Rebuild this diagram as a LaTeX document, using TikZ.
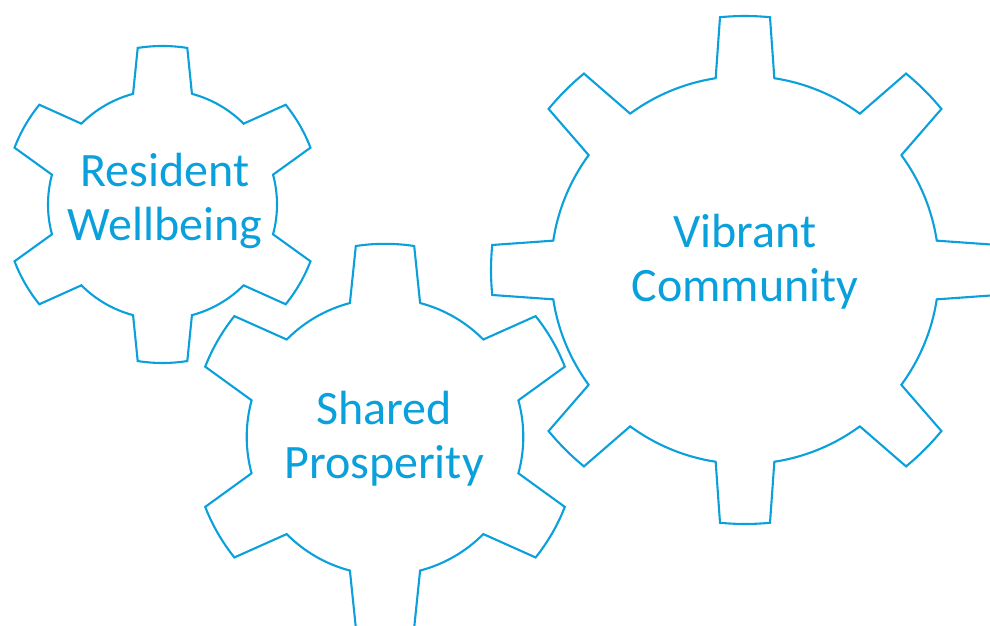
\documentclass[tikz,border=0pt]{standalone}
\usepackage{fontspec}
\setmainfont{Carlito}
\definecolor{gearblue}{RGB}{10,160,220}
\tikzset{
  gearline/.style={draw=gearblue, line width=2.1pt, line join=miter, line cap=round},
  gearlabel/.style={text=gearblue, align=center, inner sep=0pt, font=\fontsize{48}{54}\selectfont}
}
% #1 centre, #2 teeth, #3 first tooth angle, #4 root radius, #5 tip radius,
% #6 half angle at tip, #7 half angle at root
\newcommand{\gearwheel}[7]{%
  \begin{scope}[shift={#1}]
    \pgfmathsetmacro{\gearstep}{360/#2}
    \foreach \k in {1,...,#2}{
      \pgfmathsetmacro{\a}{#3+(\k-1)*\gearstep}
      \draw[gearline] (\a-#7:#4) -- (\a-#6:#5)
        arc[start angle=\a-#6, end angle=\a+#6, radius=#5]
        -- (\a+#7:#4)
        arc[start angle=\a+#7, end angle=\a+\gearstep-#7, radius=#4];
    }
  \end{scope}}

\begin{document}
\begin{tikzpicture}[x=1pt,y=1pt]
\useasboundingbox (0,0) rectangle (990,626);
\clip (0,0) rectangle (990,626);

\gearwheel{(162.5,421.5)}{6}{30}{114.5}{158.5}{9.0}{14.9}
\gearwheel{(385,189.2)}{6}{30}{138.3}{193}{8.7}{14.7}
\gearwheel{(745,356)}{8}{0}{194}{254}{5.65}{8.7}

\node[gearlabel] (resident) at (165,425) {Resident\\Wellbeing};
\node[gearlabel] (shared) at (384,187) {Shared\\Prosperity};
\node[gearlabel] (vibrant) at (745,364) {Vibrant\\Community};
\end{tikzpicture}
\end{document}
